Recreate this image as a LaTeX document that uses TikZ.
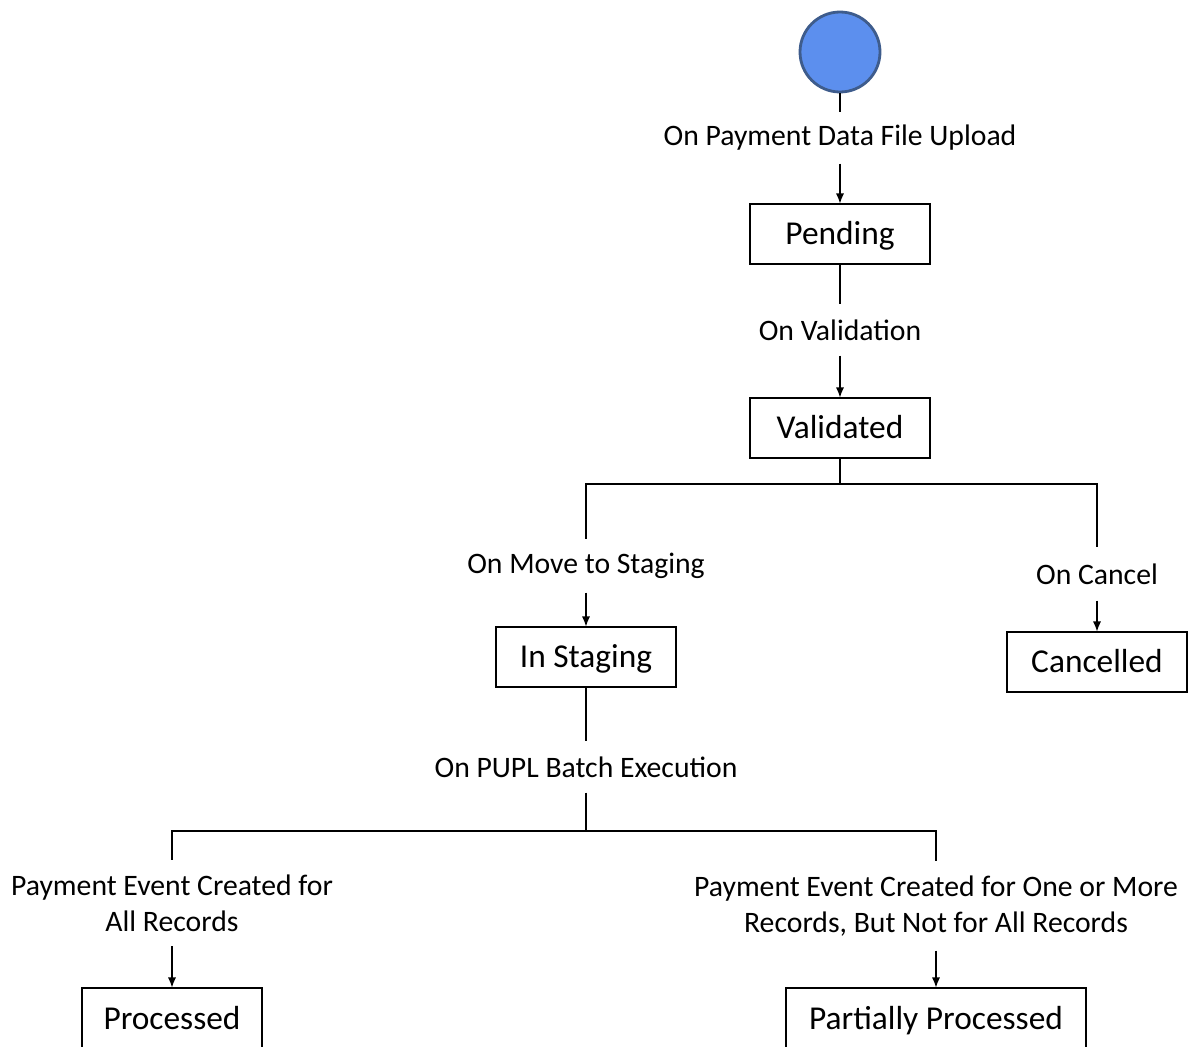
\documentclass[tikz,border=0pt]{standalone}
\usepackage{fontspec}
\setmainfont{Carlito}
\usetikzlibrary{arrows.meta}
\definecolor{startfill}{RGB}{92,143,238}
\definecolor{startline}{RGB}{62,92,140}
\tikzset{
  stbox/.style={draw,line width=0.6pt,minimum width=3.6cm,minimum height=1.2cm,inner sep=0pt,text height=15.5pt,text depth=3pt,font=\fontsize{19}{22}\selectfont},
  evlabel/.style={inner sep=0pt,minimum height=1cm,align=center,font=\fontsize{16.9}{20.4}\selectfont},
}
\begin{document}
\begin{tikzpicture}[>={Latex[length=2mm,width=1.6mm]},line width=0.6pt]
\useasboundingbox (0,0) rectangle (23.82,-20.92);
\clip (0,0) rectangle (23.82,-20.92);
\node[circle,fill=startfill,draw=startline,line width=1.6pt,minimum size=1.6cm] (S0) at (16.8,-1.04){};
\node[evlabel] (E1) at (16.8,-2.76){On Payment Data File Upload};
\node[stbox] (P) at (16.8,-4.68){Pending};
\draw (S0)--(E1);
\draw[->](E1)--(P);

\node[evlabel] (E2) at (16.8,-6.6){On Validation};
\node[stbox] (V) at (16.8,-8.56){Validated};
\draw (P)--(E2);
\draw[->](E2)--(V);

\coordinate (J1) at (16.8,-9.68);
\node[evlabel,minimum height=1.04cm] (E3) at (11.72,-11.32){On Move to Staging};
\node[evlabel,minimum height=1.04cm] (E4) at (21.94,-11.48){On Cancel};
\node[stbox] (ST) at (11.72,-13.14){In Staging};
\node[stbox] (C) at (21.94,-13.24){Cancelled};
\draw (V)--(J1);
\draw (J1)-|(E3);
\draw (J1)-|(E4);
\draw[->](E3)--(ST);
\draw[->](E4)--(C);

\node[evlabel] (E5) at (11.72,-15.34){On PUPL Batch Execution};
\coordinate (J2) at (11.72,-16.62);
\draw (ST)--(E5);
\draw (E5)--(J2);

\node[evlabel,minimum height=1.7cm] (E6) at (3.44,-18.06){Payment Event Created for\\All Records};
\node[evlabel,minimum height=1.76cm] (E7) at (18.72,-18.12){Payment Event Created for One or More\\Records, But Not for All Records};
\node[stbox] (PR) at (3.44,-20.36){Processed};
\node[stbox,minimum width=6cm] (PP) at (18.72,-20.36){Partially Processed};
\draw (J2)-|(E6);
\draw (J2)-|(E7);
\draw[->](E6)--(PR);
\draw[->](E7)--(PP);
\end{tikzpicture}
\end{document}
